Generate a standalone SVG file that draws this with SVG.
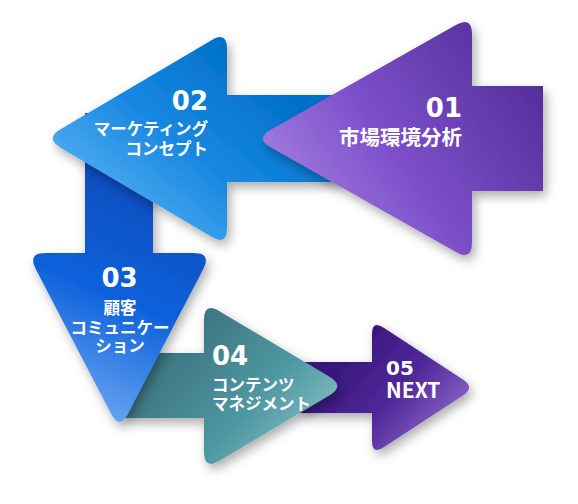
<svg xmlns="http://www.w3.org/2000/svg" width="578" height="504" viewBox="0 0 578 504">
<defs>
<style>
.t{font-family:"Noto Sans CJK JP","Noto Sans",sans-serif;font-weight:700;fill:#fff}
.n{font-family:"DejaVu Sans","Noto Sans",sans-serif;font-weight:700;fill:#fff;font-size:26px}
.j{font-size:16.5px}
</style>
<filter id="sh" x="-30%" y="-30%" width="160%" height="160%">
<feDropShadow dx="3" dy="5" stdDeviation="5.5" flood-color="#000" flood-opacity="0.33"/>
</filter>
<linearGradient id="g1" gradientUnits="userSpaceOnUse" x1="280" y1="230" x2="530" y2="60">
<stop offset="0" stop-color="#a885e2"/><stop offset="0.45" stop-color="#7d50ca"/><stop offset="1" stop-color="#532e9a"/>
</linearGradient>
<linearGradient id="g2" gradientUnits="userSpaceOnUse" x1="100" y1="220" x2="240" y2="50">
<stop offset="0" stop-color="#58b2f2"/><stop offset="0.5" stop-color="#1888e2"/><stop offset="1" stop-color="#0070c8"/>
</linearGradient>
<linearGradient id="g3" gradientUnits="userSpaceOnUse" x1="95" y1="420" x2="190" y2="200">
<stop offset="0" stop-color="#6aa6f2"/><stop offset="0.5" stop-color="#0f62dc"/><stop offset="1" stop-color="#0a4cbc"/>
</linearGradient>
<linearGradient id="g4" gradientUnits="userSpaceOnUse" x1="190" y1="320" x2="330" y2="445">
<stop offset="0" stop-color="#3c7480"/><stop offset="0.55" stop-color="#4e98a2"/><stop offset="1" stop-color="#8cc4ca"/>
</linearGradient>
<linearGradient id="g5" gradientUnits="userSpaceOnUse" x1="365" y1="340" x2="465" y2="430">
<stop offset="0" stop-color="#3a1880"/><stop offset="0.45" stop-color="#52299a"/><stop offset="1" stop-color="#9570d2"/>
</linearGradient>
</defs>

<g id="connectors"></g>

<g id="node05" filter="url(#sh)">
<rect x="300" y="362" width="74" height="51" fill="url(#g5)"/>
<path d="M383.71,327.68 L463.29,379.82 Q475,387.5 463.29,395.18 L383.71,447.32 Q372,455 372,441 L372,334 Q372,320 383.71,327.68 Z" fill="url(#g5)"/>
</g>
<g id="node05-label">
<text class="n" x="386" y="374.5" style="font-size:20px">05</text>
<text class="t" x="386" y="398" font-size="21">NEXT</text>
</g>

<g id="node04" filter="url(#sh)">
<rect x="124" y="353" width="82" height="65" fill="url(#g4)"/>
<path d="M219.46,311.21 L329.54,376.79 Q345,386 329.54,395.21 L219.46,460.79 Q204,470 204,452 L204,320 Q204,302 219.46,311.21 Z" fill="url(#g4)"/>
</g>
<g id="node04-label">
<text class="n" x="212" y="365">04</text>
<text class="t j" x="212" y="391">コンテンツ</text>
<text class="t j" x="212" y="409.5">マネジメント</text>
</g>

<g id="node03" filter="url(#sh)">
<rect x="85" y="113" width="68" height="142" fill="url(#g3)"/>
<path d="M45.4,253 L193.6,253 Q211.6,253 203.29,268.97 L127.81,414.03 Q119.5,430 111.19,414.03 L35.71,268.97 Q27.4,253 45.4,253 Z" fill="url(#g3)"/>
</g>
<g id="node03-label" text-anchor="middle">
<text class="n" x="119.5" y="287">03</text>
<text class="t j" x="120" y="313.5">顧客</text>
<text class="t j" x="120" y="333.5">コミュニケー</text>
<text class="t j" x="120" y="352">ション</text>
</g>

<g id="node02" filter="url(#sh)">
<rect x="225" y="95" width="115" height="87" fill="url(#g2)"/>
<path d="M60.5,129.35 L211.5,40.15 Q227,31 227,49 L227,228 Q227,246 211.5,236.85 L60.5,147.65 Q45,138.5 60.5,129.35 Z" fill="url(#g2)"/>
</g>
<g id="node02-label" text-anchor="end">
<text class="n" x="208" y="110">02</text>
<text class="t j" x="208" y="135">マーケティング</text>
<text class="t j" x="208" y="154.5">コンセプト</text>
</g>

<g id="node01" filter="url(#sh)">
<rect x="470" y="86" width="73" height="105" fill="url(#g1)"/>
<path d="M270.7,129.65 L456.3,24.85 Q472,16 472,34 L472,243 Q472,261 456.3,252.15 L270.7,147.35 Q255,138.5 270.7,129.65 Z" fill="url(#g1)"/>
</g>
<g id="node01-label" text-anchor="end">
<text class="n" x="462" y="117">01</text>
<text class="t" x="462" y="144.5" font-size="20.5">市場環境分析</text>
</g>
</svg>
